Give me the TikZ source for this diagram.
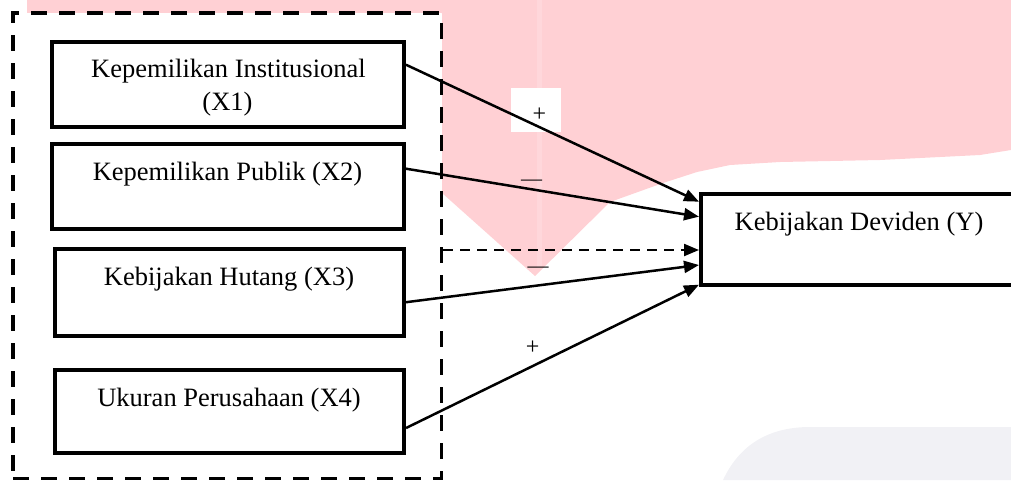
\documentclass[tikz,border=0pt]{standalone}
\usepackage{fontspec}
\setmainfont{Liberation Serif}
\usetikzlibrary{arrows.meta}
\definecolor{wmpink}{RGB}{255,208,212}
\definecolor{wmlight}{RGB}{255,215,219}
\definecolor{wmgray}{RGB}{241,241,245}
\begin{document}
\begin{tikzpicture}[x=1pt,y=-1pt,
  varbox/.style={draw, line width=4pt, rectangle, inner sep=0pt, fill=white},
  grpbox/.style={draw, line width=3.5pt, dash pattern=on 16pt off 12pt, rectangle, inner sep=0pt, fill=white},
  lbl/.style={font=\fontsize{26.5}{33}\selectfont, inner sep=0pt, anchor=base},
  plussign/.style={font=\fontsize{24}{28}\selectfont, inner sep=0pt, anchor=base},
  minussign/.style={font=\fontsize{21}{25}\selectfont, inner sep=0pt, anchor=base},
  conn/.style={line width=2.5pt, -{Triangle[length=15pt,width=12pt]}},
  dconn/.style={line width=2.2pt, dash pattern=on 10pt off 7pt, -{Triangle[length=15pt,width=12pt]}}]
\useasboundingbox (0,0) rectangle (1011,480);
\clip (0,0) rectangle (1011,480);
% watermark
\fill[wmpink] (27,0) -- (1011,0) -- (1011,150) -- (980,155) -- (880,160) -- (780,162) -- (730,165) -- (697,172) -- (663,183) -- (610,202) -- (535,276) -- (442,193) -- (442,13) -- (27,13) -- cycle;
\fill[wmlight] (537,0) rectangle (542,268);
\fill[wmgray] (723,480) .. controls (738,448) and (765,427) .. (810,427) -- (1011,427) -- (1011,480) -- cycle;
% group
\node[grpbox, minimum width=428.3pt, minimum height=465.3pt] (grp) at (227.2,245.7) {};
% boxes
\node[varbox, minimum width=351.5pt, minimum height=85pt] (x1) at (228.2,84.2) {};
\node[varbox, minimum width=352pt, minimum height=85pt] (x2) at (228,186.7) {};
\node[varbox, minimum width=349.5pt, minimum height=86.5pt] (x3) at (229.3,292.7) {};
\node[varbox, minimum width=349.5pt, minimum height=83pt] (x4) at (229.3,411) {};
\node[varbox, minimum width=324pt, minimum height=91pt] (y) at (863,239.2) {};
% white patch behind label
\fill[white] (511,88.3) rectangle (561,131.7);
% connectors
\draw[conn] ([yshift=19.5pt]x1.east) -- ([yshift=37.5pt]y.west);
\draw[conn] ([yshift=18pt]x2.east) -- ([yshift=22.5pt]y.west);
\draw[dconn] ([yshift=-4.3pt]grp.east) -- ([yshift=-10.8pt]y.west);
\draw[conn] ([yshift=-9.5pt]x3.east) -- ([yshift=-25.8pt]y.west);
\draw[conn] ([yshift=-17pt]x4.east) -- ([yshift=-45.5pt]y.west);
% texts
\node[lbl] (x1a) at (228.5,77) {Kepemilikan Institusional};
\node[lbl] (x1b) at (227.5,110) {(X1)};
\node[lbl] (x2t) at (227.5,180) {Kepemilikan Publik (X2)};
\node[lbl] (x3t) at (229,285) {Kebijakan Hutang (X3)};
\node[lbl] (x4t) at (229,406) {Ukuran Perusahaan (X4)};
\node[lbl] (yt) at (859,230) {Kebijakan Deviden (Y)};
% signs
\node[plussign] (s1) at (539.3,121.5) {+};
\node[minussign] (s2) at (531.6,185) {—};
\node[minussign] (s3) at (538,272.7) {—};
\node[plussign] (s4) at (532.7,354.5) {+};
\end{tikzpicture}
\end{document}
